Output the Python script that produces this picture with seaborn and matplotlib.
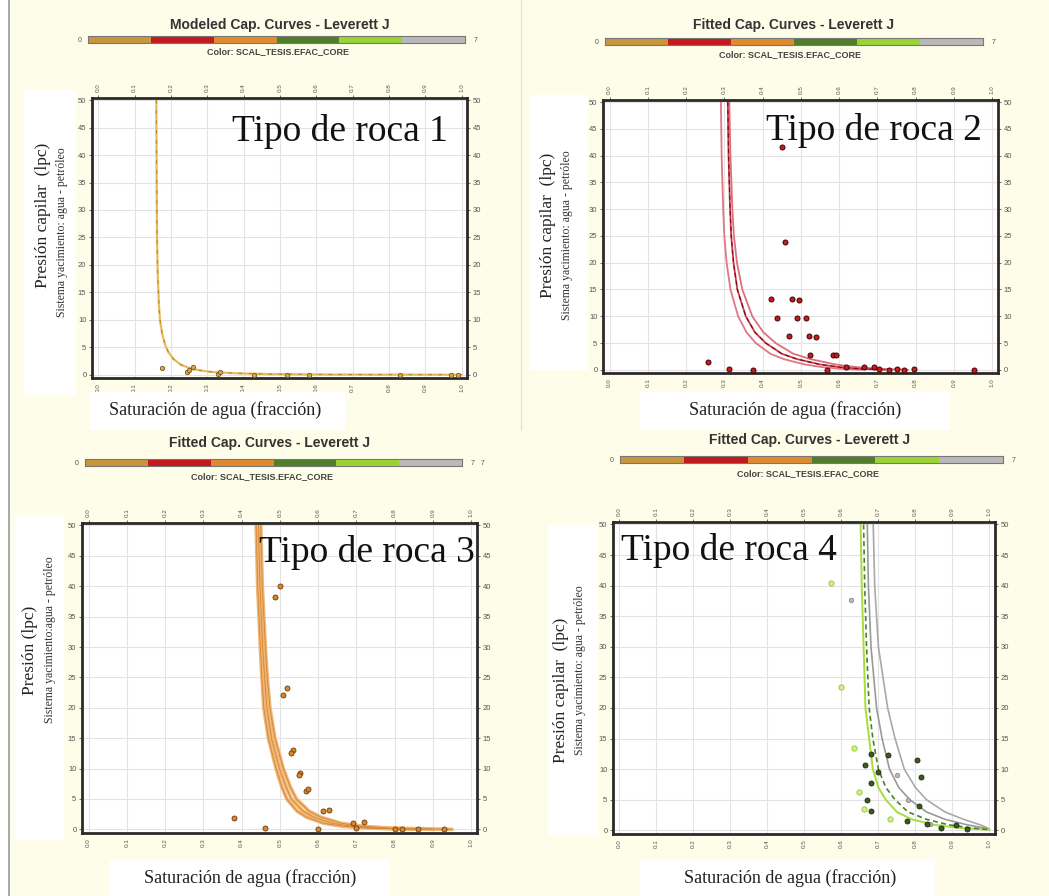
import numpy as np
import pandas as pd
import matplotlib
matplotlib.use("Agg")
import matplotlib.pyplot as plt
import seaborn as sns
from matplotlib.patches import Rectangle

sns.set_style("white")
plt.rcParams['font.family'] = ['Liberation Sans', 'DejaVu Sans']

W, H = 1049, 896

# colour scale shown above every panel (0 .. 7)
scale_colors = ['#c8963c', '#c41a1e', '#e08a30', '#4f7f2a', '#9ad434', '#b9b9b9']
scale_widths = [1, 1, 1, 1, 1, 1]

# ---- rock type 1 ----
rt1_sw = [0.160, 0.161, 0.162, 0.164, 0.167, 0.170, 0.176, 0.184, 0.194, 0.208, 0.228, 0.26, 0.31, 0.38, 0.48, 0.65, 1.0]
rt1_pc = [50, 35, 25, 18, 13, 10, 7.5, 5.5, 4.0, 2.8, 1.8, 1.0, 0.5, 0.25, 0.1, 0.03, 0]
rt1_pts_sw = [0.176, 0.245, 0.26, 0.25, 0.33, 0.335, 0.43, 0.52, 0.58, 0.83, 0.97, 0.99]
rt1_pts_pc = [1.3, 0.5, 1.4, 0.8, 0.2, 0.5, 0.0, 0.0, 0.0, 0.0, 0.0, 0.0]

# ---- rock type 2 ----
rt2_pc = [50, 40, 30, 25, 20, 15, 10, 7, 5, 3, 2, 1, 0.5, 0.2, 0]
rt2_low = [0.291, 0.293, 0.297, 0.300, 0.306, 0.316, 0.336, 0.358, 0.382, 0.420, 0.455, 0.510, 0.555, 0.600, 0.660]
rt2_mid = [0.309, 0.311, 0.315, 0.318, 0.324, 0.334, 0.356, 0.380, 0.408, 0.450, 0.490, 0.550, 0.600, 0.650, 0.720]
rt2_high = [0.313, 0.316, 0.321, 0.325, 0.333, 0.347, 0.373, 0.402, 0.434, 0.480, 0.525, 0.590, 0.645, 0.700, 0.780]
rt2_pts_sw = [0.450, 0.459, 0.421, 0.477, 0.496, 0.438, 0.491, 0.513, 0.470, 0.520, 0.539, 0.523, 0.583, 0.591,
              0.257, 0.311, 0.374, 0.567, 0.617, 0.665, 0.691, 0.704, 0.73, 0.75, 0.77, 0.796, 0.952]
rt2_pts_pc = [41.6, 23.8, 13.3, 13.3, 13.0, 9.75, 9.75, 9.6, 6.25, 6.25, 6.1, 2.7, 2.7, 2.7,
              1.4, 0.1, 0.0, 0.0, 0.5, 0.5, 0.5, 0.1, 0.0, 0.2, 0.0, 0.1, 0.0]

# ---- rock type 3 ----
rt3_pc = [50, 40, 30, 25, 20, 15, 10, 7, 5, 3, 2, 1, 0.5, 0.2, 0]
rt3_low = [0.438, 0.442, 0.449, 0.453, 0.458, 0.470, 0.490, 0.505, 0.518, 0.545, 0.570, 0.615, 0.665, 0.73, 0.85]
rt3_mid = [0.444, 0.448, 0.455, 0.460, 0.466, 0.478, 0.499, 0.516, 0.530, 0.560, 0.588, 0.637, 0.690, 0.76, 0.90]
rt3_high = [0.450, 0.454, 0.462, 0.467, 0.474, 0.487, 0.509, 0.527, 0.543, 0.576, 0.607, 0.660, 0.717, 0.79, 0.95]
rt3_pts_sw = [0.501, 0.488, 0.519, 0.508, 0.534, 0.530, 0.553, 0.549, 0.567, 0.574, 0.613, 0.628, 0.38, 0.46,
              0.60, 0.69, 0.72, 0.70, 0.80, 0.82, 0.86, 0.93]
rt3_pts_pc = [40.0, 38.2, 23.2, 22.1, 13.1, 12.6, 9.3, 8.9, 6.3, 6.6, 3.1, 3.2, 1.8, 0.3,
              0.1, 1.1, 1.2, 0.2, 0.1, 0.1, 0.0, 0.0]

# ---- rock type 4 ----
rt4_pc = [50, 40, 30, 20, 15, 10, 7, 5, 3, 1.8, 0.9, 0.4, 0.1]
rt4_a = [0.652, 0.655, 0.660, 0.665, 0.675, 0.685, 0.700, 0.720, 0.750, 0.790, 0.850, 0.920, 1.0]
rt4_b = [0.660, 0.663, 0.668, 0.675, 0.685, 0.700, 0.720, 0.745, 0.780, 0.830, 0.890, 0.950, 1.0]
rt4_c = [0.670, 0.673, 0.680, 0.695, 0.710, 0.730, 0.755, 0.785, 0.830, 0.880, 0.940, 0.985, 1.0]
rt4_d = [0.686, 0.690, 0.700, 0.725, 0.745, 0.770, 0.800, 0.830, 0.880, 0.930, 0.975, 0.995, 1.0]
rt4_light_sw = [0.571, 0.598, 0.634, 0.648, 0.73, 0.66, 0.87]
rt4_light_pc = [40.5, 23.5, 13.4, 6.2, 1.8, 3.5, 0.5]
rt4_gray_sw = [0.625, 0.749, 0.84, 0.78]
rt4_gray_pc = [37.6, 9.1, 1.0, 5.0]
rt4_dark_sw = [0.681, 0.727, 0.805, 0.665, 0.815, 0.698, 0.679, 0.67, 0.681, 0.776, 0.81, 0.83, 0.87, 0.91, 0.94]
rt4_dark_pc = [12.5, 12.3, 11.5, 10.6, 8.7, 9.5, 7.8, 5.0, 3.1, 1.5, 4.0, 1.0, 0.3, 0.8, 0.2]

x_ticks = [0.0, 0.1, 0.2, 0.3, 0.4, 0.5, 0.6, 0.7, 0.8, 0.9, 1.0]
y_ticks = [0, 5, 10, 15, 20, 25, 30, 35, 40, 45, 50]


def px_rect(x0, y0, x1, y1):
    return [x0 / W, 1 - y1 / H, (x1 - x0) / W, (y1 - y0) / H]


def white_box(fig, x0, y0, x1, y1):
    fig.patches.append(Rectangle((x0 / W, 1 - y1 / H), (x1 - x0) / W, (y1 - y0) / H,
                                 transform=fig.transFigure, facecolor='white', edgecolor='none', zorder=0))


def make_panel(fig, box, label, lx, ly, la):
    ax = fig.add_axes(px_rect(*box))
    ax.set_facecolor('white')
    ax.set_xlim(-0.017, 1.015)
    ax.set_ylim(-0.6, 50.4)
    ax.set_xticks(x_ticks)
    ax.set_xticklabels([f'{v:.1f}' for v in x_ticks])
    ax.set_yticks(y_ticks)
    ax.tick_params(axis='x', top=True, labeltop=True, labelrotation=90, labelsize=4.5,
                   colors='#555555', length=2, width=0.6, pad=2)
    ax.tick_params(axis='y', left=True, right=True, labelright=True, labelsize=5.5,
                   colors='#555555', length=2, width=0.6, pad=2)
    ax.grid(True, color='#e3e3e3', lw=0.8)
    for sp in ax.spines.values():
        sp.set_linewidth(2)
        sp.set_color('#2a2a2a')
    ax.text(lx, ly, label, transform=ax.transAxes, ha=la, va='center',
            fontsize=27, family='Liberation Serif', color='#111111', zorder=10)
    return ax


def color_scale(fig, x0, x1, yc, title, tx, ty, cx, cy, right_label='7'):
    cax = fig.add_axes(px_rect(x0, yc - 3.5, x1, yc + 3.5))
    lefts = np.cumsum([0] + scale_widths[:-1])
    cax.barh(0, scale_widths, left=lefts, color=scale_colors, height=1, edgecolor='none')
    cax.set_xlim(0, sum(scale_widths))
    cax.set_ylim(-0.5, 0.5)
    cax.set_xticks([])
    cax.set_yticks([])
    for sp in cax.spines.values():
        sp.set_linewidth(0.8)
        sp.set_color('#777777')
    fig.text((x0 - 8) / W, 1 - yc / H, '0', fontsize=5, color='#555555', ha='center', va='center')
    fig.text((x1 + 9) / W, 1 - yc / H, right_label, fontsize=5, color='#555555', ha='left', va='center')
    fig.text(tx / W, 1 - ty / H, title, fontsize=10, fontweight='bold', color='#333333',
             ha='center', va='center')
    fig.text(cx / W, 1 - cy / H, 'Color: SCAL_TESIS.EFAC_CORE', fontsize=6.5, fontweight='bold',
             color='#444444', ha='center', va='center')


fig = plt.figure(figsize=(W / 100, H / 100), dpi=100, facecolor='#fdfde9')

# frame lines of the screenshot
fig.patches.append(Rectangle((0, 0), 9 / W, 1, transform=fig.transFigure, facecolor='white',
                             edgecolor='none', zorder=0))
fig.add_artist(plt.Line2D([9 / W, 9 / W], [0, 1], color='#9a9a9a', lw=1.2))
fig.add_artist(plt.Line2D([521 / W, 521 / W], [0.52, 1], color='#e4e4d0', lw=1))

# white backgrounds behind the axis titles
white_box(fig, 24, 90, 76, 395)
white_box(fig, 530, 95, 588, 370)
white_box(fig, 14, 515, 64, 840)
white_box(fig, 548, 525, 598, 835)
white_box(fig, 90, 392, 345, 430)
white_box(fig, 640, 392, 950, 430)
white_box(fig, 110, 860, 390, 896)
white_box(fig, 640, 860, 935, 896)

serif = 'Liberation Serif'

# ---------- panel 1 ----------
ax1 = make_panel(fig, (92, 98, 467, 378), 'Tipo de roca 1', 0.95, 0.88, 'right')
sns.lineplot(x=rt1_sw, y=rt1_pc, ax=ax1, sort=False, color='#e6bb5a', lw=1.6)
sns.lineplot(x=rt1_sw, y=rt1_pc, ax=ax1, sort=False, color='#b8862a', lw=0.8, linestyle=(0, (3, 6)))
sns.scatterplot(x=rt1_pts_sw, y=rt1_pts_pc, ax=ax1, color='#d9a844', edgecolor='#7a5a1a',
                s=10, linewidth=0.6, zorder=5, clip_on=False)
color_scale(fig, 88, 465, 40, 'Modeled Cap. Curves - Leverett J', 280, 25, 278, 52)
fig.text(43 / W, 1 - 215 / H, 'Presión capilar  (lpc)', rotation=90, family=serif, fontsize=12.5,
         ha='center', va='center', color='#222222')
fig.text(62 / W, 1 - 232 / H, 'Sistema yacimiento: agua - petróleo', rotation=90, family=serif,
         fontsize=8.5, ha='center', va='center', color='#333333')
fig.text(215 / W, 1 - 410 / H, 'Saturación de agua (fracción)', family=serif, fontsize=13,
         ha='center', va='center', color='#222222')

# ---------- panel 2 ----------
ax2 = make_panel(fig, (603, 100, 998, 373), 'Tipo de roca 2', 0.96, 0.89, 'right')
sns.lineplot(x=rt2_low, y=rt2_pc, ax=ax2, sort=False, color='#e07784', lw=1.3)
sns.lineplot(x=rt2_high, y=rt2_pc, ax=ax2, sort=False, color='#d9707e', lw=1.3)
sns.lineplot(x=rt2_mid, y=rt2_pc, ax=ax2, sort=False, color='#d23a4c', lw=1.3)
sns.lineplot(x=rt2_mid, y=rt2_pc, ax=ax2, sort=False, color='#7a0a14', lw=0.8, linestyle=(0, (4, 3)))
sns.scatterplot(x=rt2_pts_sw, y=rt2_pts_pc, ax=ax2, color='#d01818', edgecolor='#3a0505',
                s=13, linewidth=0.7, zorder=5, clip_on=False)
color_scale(fig, 605, 983, 42, 'Fitted Cap. Curves - Leverett J', 794, 25, 790, 55)
fig.text(548 / W, 1 - 225 / H, 'Presión capilar  (lpc)', rotation=90, family=serif, fontsize=12.5,
         ha='center', va='center', color='#222222')
fig.text(567 / W, 1 - 235 / H, 'Sistema yacimiento: agua - petróleo', rotation=90, family=serif,
         fontsize=8.5, ha='center', va='center', color='#333333')
fig.text(795 / W, 1 - 410 / H, 'Saturación de agua (fracción)', family=serif, fontsize=13,
         ha='center', va='center', color='#222222')

# ---------- panel 3 ----------
ax3 = make_panel(fig, (82, 523, 477, 833), 'Tipo de roca 3', 0.995, 0.905, 'right')
for curve in [rt3_low, rt3_mid, rt3_high]:
    sns.lineplot(x=curve, y=rt3_pc, ax=ax3, sort=False, color='#efb574', lw=2.6)
for curve in [rt3_low, rt3_mid, rt3_high]:
    sns.lineplot(x=curve, y=rt3_pc, ax=ax3, sort=False, color='#d48534', lw=0.6)
sns.scatterplot(x=rt3_pts_sw, y=rt3_pts_pc, ax=ax3, color='#dd8428', edgecolor='#6a3a0a',
                s=13, linewidth=0.6, zorder=5, clip_on=False)
color_scale(fig, 85, 462, 463, 'Fitted Cap. Curves - Leverett J', 270, 443, 262, 477,
            right_label='7   7')
fig.text(30 / W, 1 - 650 / H, 'Presión (lpc)', rotation=90, family=serif, fontsize=12.5,
         ha='center', va='center', color='#222222')
fig.text(50 / W, 1 - 640 / H, 'Sistema yacimiento:agua - petróleo', rotation=90, family=serif,
         fontsize=8.5, ha='center', va='center', color='#333333')
fig.text(250 / W, 1 - 878 / H, 'Saturación de agua (fracción)', family=serif, fontsize=13,
         ha='center', va='center', color='#222222')

# ---------- panel 4 ----------
ax4 = make_panel(fig, (613, 522, 995, 834), 'Tipo de roca 4', 0.02, 0.91, 'left')
sns.lineplot(x=rt4_d, y=rt4_pc, ax=ax4, sort=False, color='#a9a9a9', lw=1.2)
sns.lineplot(x=rt4_c, y=rt4_pc, ax=ax4, sort=False, color='#9a9a9a', lw=1.2)
sns.lineplot(x=rt4_a, y=rt4_pc, ax=ax4, sort=False, color='#a8dc3c', lw=1.4)
sns.lineplot(x=rt4_b, y=rt4_pc, ax=ax4, sort=False, color='#4f7f2a', lw=1.2, linestyle=(0, (3, 2)))
sns.scatterplot(x=rt4_light_sw, y=rt4_light_pc, ax=ax4, color='#d4f08a', edgecolor='#9ccc3a',
                s=14, linewidth=0.7, zorder=5, clip_on=False)
sns.scatterplot(x=rt4_gray_sw, y=rt4_gray_pc, ax=ax4, color='#bbbbbb', edgecolor='#888888',
                s=10, linewidth=0.6, zorder=5, clip_on=False)
sns.scatterplot(x=rt4_dark_sw, y=rt4_dark_pc, ax=ax4, color='#3a5a20', edgecolor='#1a2a0a',
                s=13, linewidth=0.6, zorder=5, clip_on=False)
color_scale(fig, 620, 1003, 460, 'Fitted Cap. Curves - Leverett J', 810, 440, 808, 474)
fig.text(561 / W, 1 - 690 / H, 'Presión capilar  (lpc)', rotation=90, family=serif, fontsize=12.5,
         ha='center', va='center', color='#222222')
fig.text(580 / W, 1 - 670 / H, 'Sistema yacimiento: agua - petróleo', rotation=90, family=serif,
         fontsize=8.5, ha='center', va='center', color='#333333')
fig.text(790 / W, 1 - 878 / H, 'Saturación de agua (fracción)', family=serif, fontsize=13,
         ha='center', va='center', color='#222222')

fig.savefig('out.png', dpi=100, facecolor=fig.get_facecolor())
